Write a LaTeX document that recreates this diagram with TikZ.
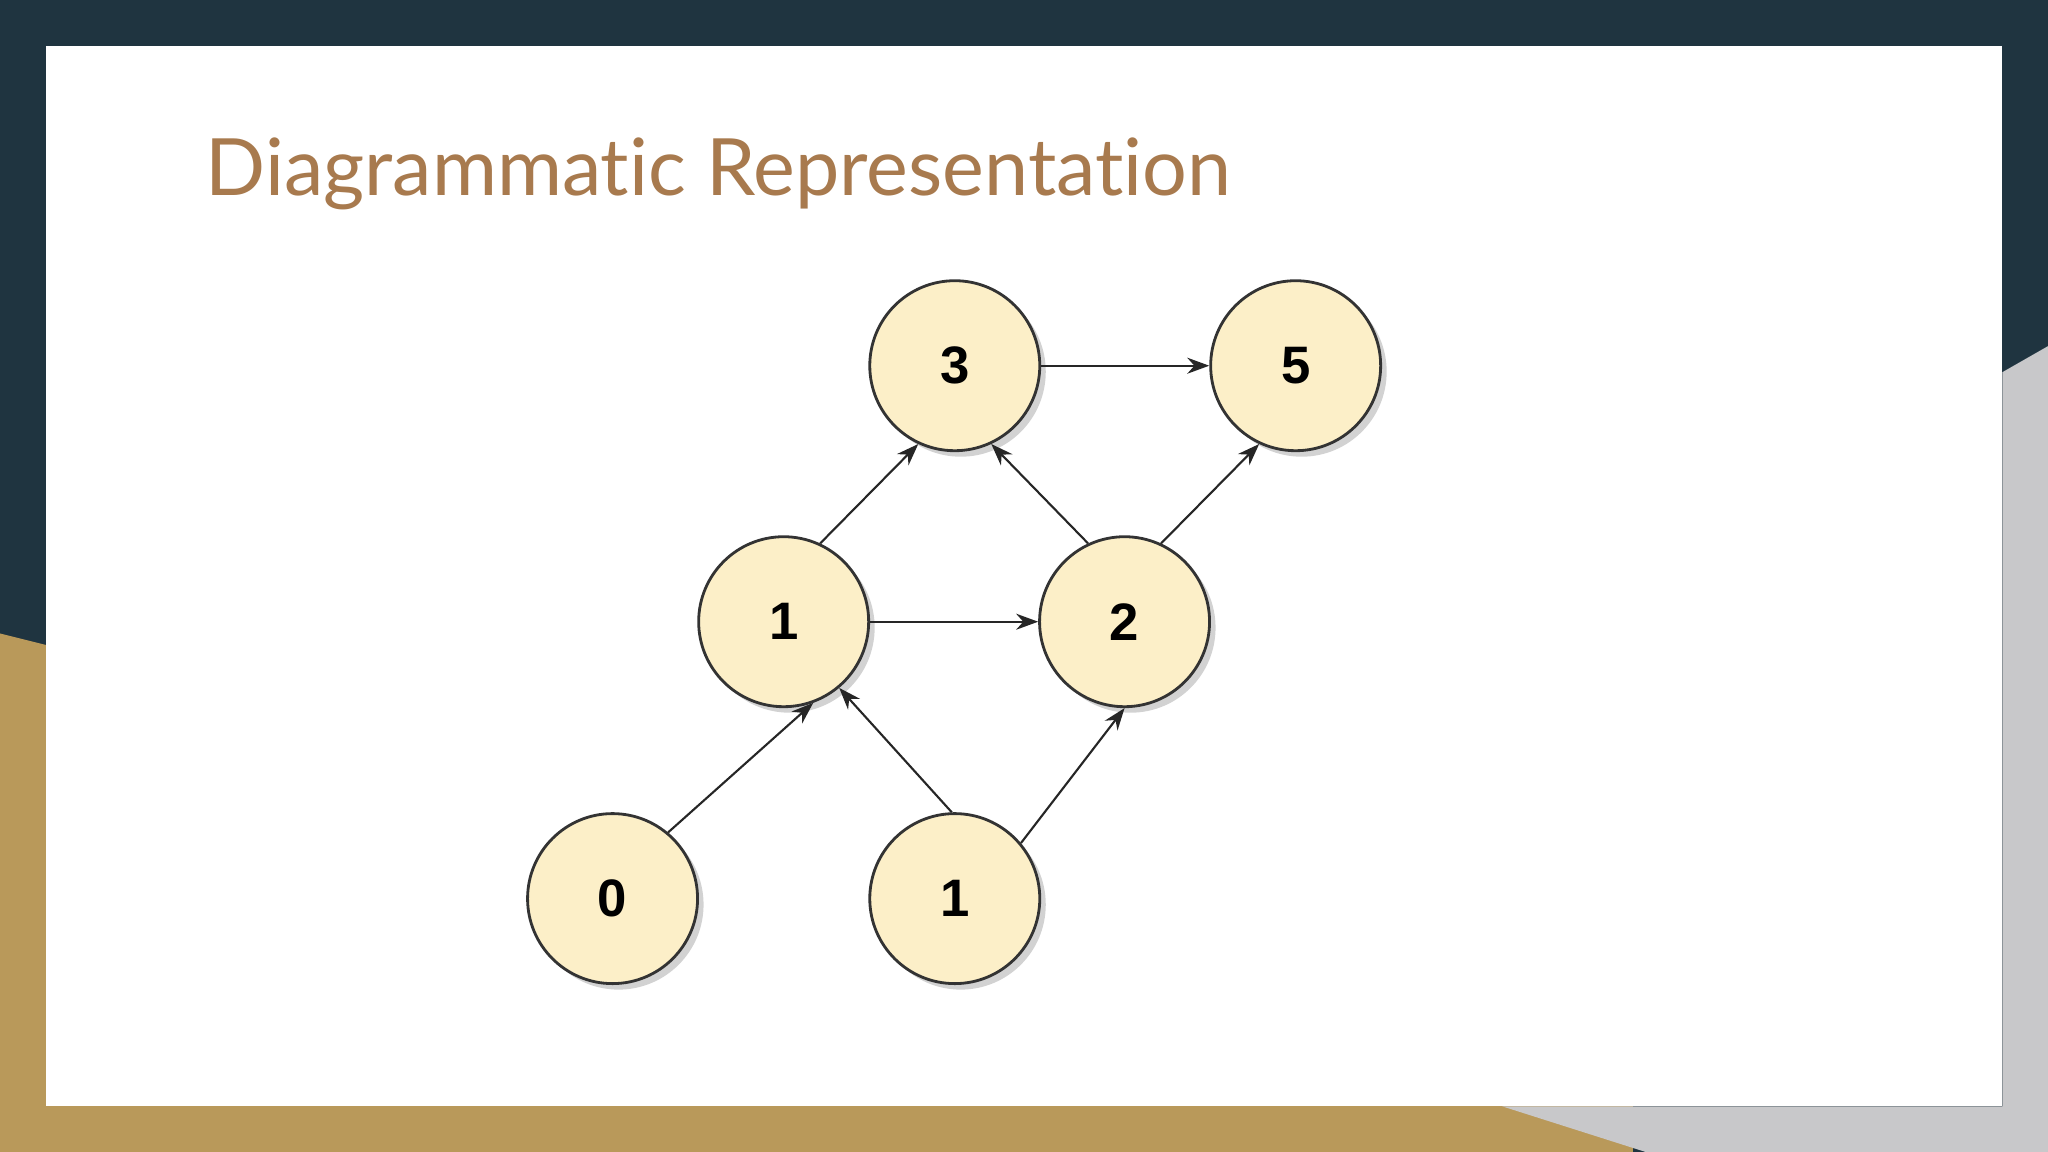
\documentclass[tikz,border=0pt]{standalone}
\usepackage{fontspec}
\setmainfont{Liberation Sans}
\newfontfamily\titlefont[RawFeature=-liga]{Lato}
\usetikzlibrary{arrows.meta,shadows}
\definecolor{slatebg}{HTML}{1F3440}
\definecolor{goldbg}{HTML}{B9995A}
\definecolor{greybg}{HTML}{C8C8CA}
\definecolor{nodefill}{HTML}{FCEFC8}
\definecolor{titlebrown}{HTML}{A87A4E}
\tikzset{
  vertex/.style={circle, draw=black!80, thick, fill=nodefill, minimum size=1.70cm,
    font=\bfseries\fontsize{15}{15}\selectfont, drop shadow={opacity=0.35, shadow xshift=0.06cm, shadow yshift=-0.06cm}},
  link/.style={-{Stealth[length=2.2mm,width=1.6mm]}, black!85, semithick}
}
\begin{document}
\begin{tikzpicture}[x=0.01306cm,y=-0.01306cm]
  % slide background
  \fill[slatebg] (0,0) rectangle (1568,882);
  \fill[goldbg] (0,485) -- (60,500) -- (60,882) -- (0,882) -- cycle;
  \fill[greybg] (1533,285) -- (1568,265) -- (1568,882) -- (1533,882) -- cycle;
  \fill[goldbg] (0,847) rectangle (1250,882);
  \fill[greybg] (1150,847) -- (1533,847) -- (1568,882) -- (1260,882) -- cycle;
  \fill[white] (35,35) rectangle (1533,847);
  \useasboundingbox (0,0) rectangle (1568,882);
  % title
  \node[anchor=west, text=titlebrown, inner sep=0pt] (title) at (157,133)
    {\titlefont\fontsize{22.5}{22.5}\selectfont Diagrammatic Representation};
  % graph
  \node[vertex] (n3) at (731,280) {3};
  \node[vertex] (n5) at (992,280) {5};
  \node[vertex] (n1) at (600,476) {1};
  \node[vertex] (n2) at (861,476) {2};
  \node[vertex] (n0) at (469,688) {0};
  \node[vertex] (m1) at (731,688) {1};
  \draw[link] (n0.50) -- (n1.-70);
  \draw[link] (m1.92) -- (n1.-50);
  \draw[link] (m1.40) -- (n2.-90);
  \draw[link] (n1) -- (n2);
  \draw[link] (n1.65) -- (n3.-115);
  \draw[link] (n2.115) -- (n3.-65);
  \draw[link] (n2.65) -- (n5.-115);
  \draw[link] (n3) -- (n5);
\end{tikzpicture}
\end{document}
